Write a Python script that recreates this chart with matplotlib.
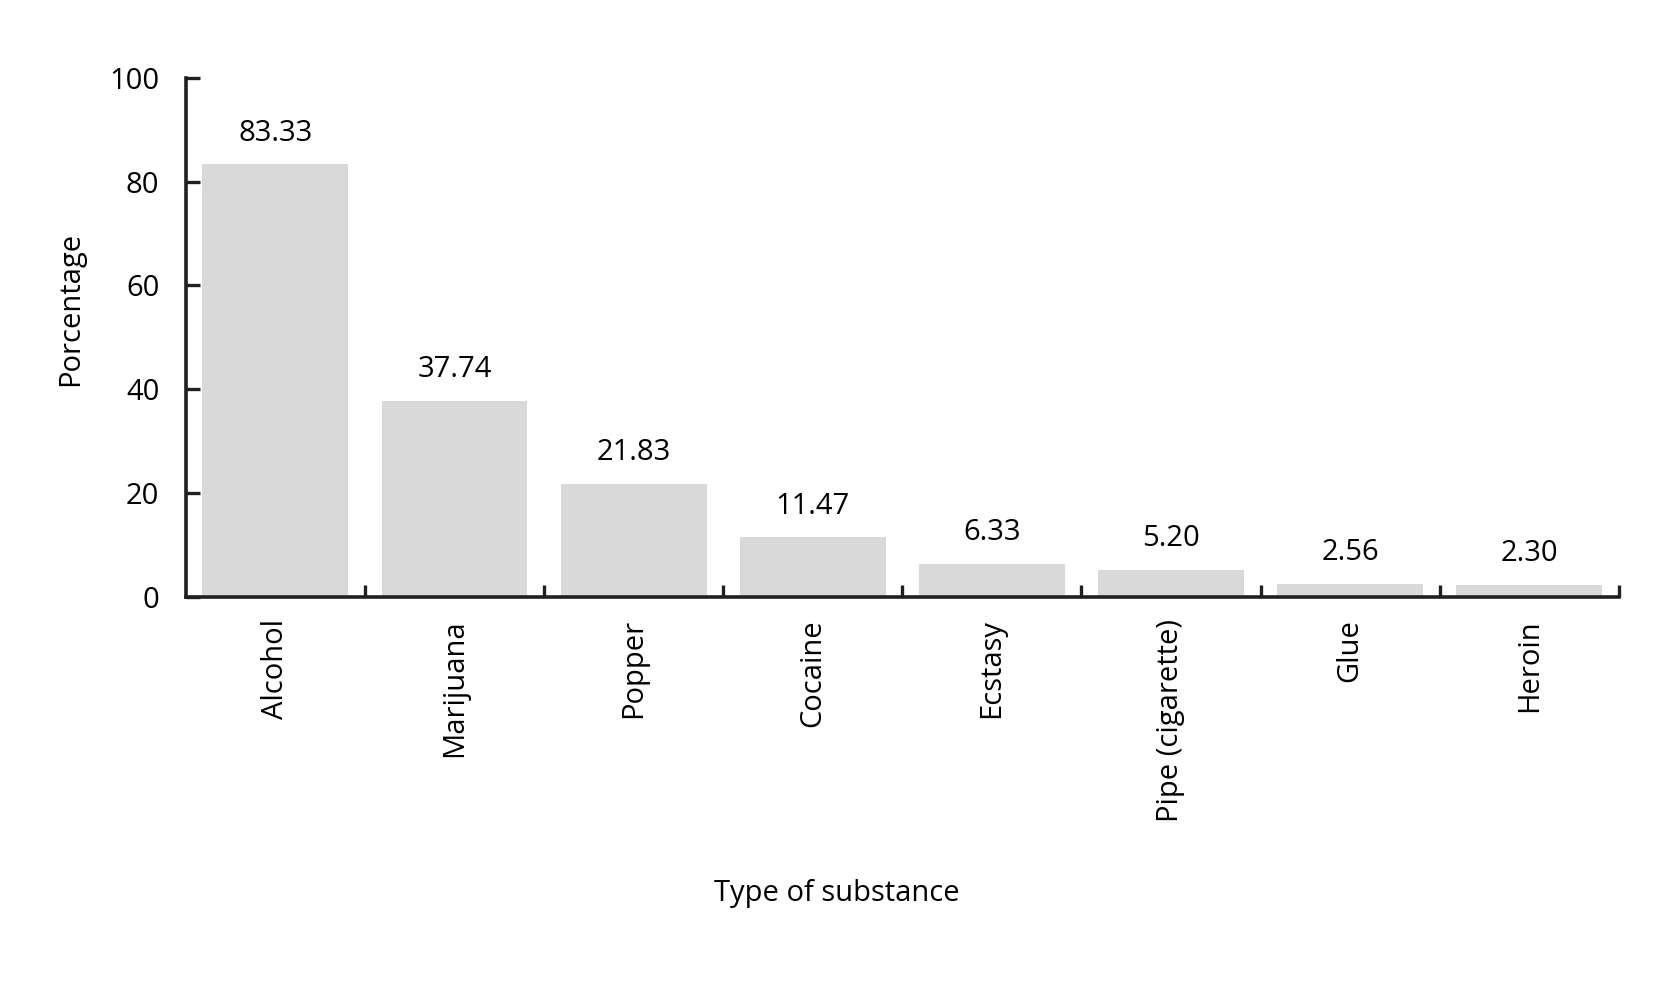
import matplotlib
matplotlib.use("Agg")
import matplotlib.pyplot as plt
import numpy as np

categories = ["Alcohol", "Marijuana", "Popper", "Cocaine", "Ecstasy",
              "Pipe (cigarette)", "Glue", "Heroin"]
values = [83.33, 37.74, 21.83, 11.47, 6.33, 5.20, 2.56, 2.30]
value_labels = ["83.33", "37.74", "21.83", "11.47", "6.33", "5.20", "2.56", "2.30"]
yticks = [0, 20, 40, 60, 80, 100]

plt.rcParams['font.family'] = ['Open Sans', 'DejaVu Sans']
axcol = '#231f20'
fs = 21

fig = plt.figure(figsize=(16.74, 9.85), dpi=100)
ax = fig.add_axes([0.111, 0.394, 0.856, 0.527])

x = np.arange(len(categories))
ax.bar(x, values, width=0.815, color='#d9d9d9', edgecolor='none', zorder=1)
for xi, v, lab in zip(x, values, value_labels):
    ax.annotate(lab, (xi, v), xytext=(0, 12), textcoords='offset points',
                ha='center', va='bottom', fontsize=fs, color='black')

ax.set_xlim(-0.5, len(categories) - 0.5)
ax.set_ylim(0, 100)
ax.set_yticks(yticks)
ax.set_yticklabels([str(t) for t in yticks], fontsize=fs)

ax.set_xticks(x)
ax.set_xticklabels(categories, rotation=90, fontsize=fs)
ax.tick_params(axis='x', which='major', length=0, pad=16)
ax.set_xticks(np.arange(0.5, len(categories)), minor=True)
ax.tick_params(axis='x', which='minor', direction='in', length=9, width=2.4, color=axcol)
ax.tick_params(axis='y', which='major', direction='in', length=10, width=2.4, color=axcol, pad=19)

for s in ['top', 'right']:
    ax.spines[s].set_visible(False)
for s in ['left', 'bottom']:
    ax.spines[s].set_linewidth(2.6)
    ax.spines[s].set_color(axcol)

fig.text(0.042, 0.686, "Porcentage", rotation=90, ha='center', va='center', fontsize=fs)
fig.text(0.5, 0.093, "Type of substance", ha='center', va='center', fontsize=fs)

fig.savefig("out.png", dpi=100)
